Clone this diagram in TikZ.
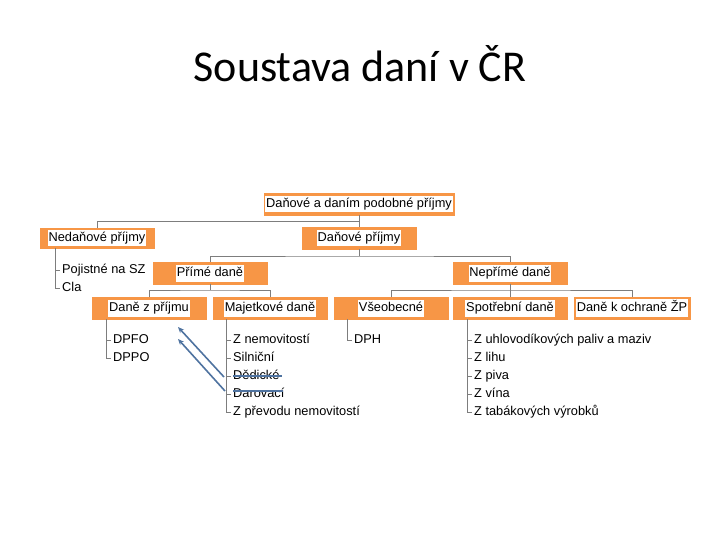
\documentclass[tikz,border=0pt]{standalone}
\usepackage{fontspec}
\setmainfont{Liberation Sans}
\newfontfamily\titlefont{Carlito}
\usetikzlibrary{positioning,arrows.meta,calc}
\definecolor{taxorange}{RGB}{247,150,70}
\definecolor{treegray}{RGB}{125,125,125}
\definecolor{strikeblue}{RGB}{79,115,160}
\newcommand{\whitehl}[1]{{\setlength{\fboxsep}{0.8pt}\colorbox{white}{\strut #1}}}
\tikzset{
  taxbox/.style={fill=taxorange, draw=taxorange, minimum width=114pt, minimum height=22pt, inner sep=1.5pt, align=center},
  itemnode/.style={anchor=west, inner xsep=7pt, inner ysep=0pt, text height=9.5pt, text depth=2.5pt},
  treeline/.style={draw=treegray, line width=0.8pt},
  strikeline/.style={draw=strikeblue, line width=1.4pt},
  movearrow/.style={-{Stealth[length=6pt, width=5pt]}, draw=strikeblue, line width=1.6pt}
}

\begin{document}
\begin{tikzpicture}[x=1pt, y=-1pt, every node/.style={font=\fontsize{12.8pt}{15.4pt}\selectfont}]
  \useasboundingbox (0,0) rectangle (720,540);
  \node[font=\titlefont\fontsize{44pt}{52pt}\selectfont, anchor=base] (title) at (360,82) {Soustava daní v ČR};

  % boxes
  \node[taxbox, minimum width=190pt] (top) at (359,204) {\whitehl{Daňové a daním podobné příjmy}};
  \node[taxbox, minimum height=20pt] (nedan) at (97,238) {\whitehl{Nedaňové příjmy}};
  \node[taxbox] (danove) at (359,238) {\whitehl{Daňové příjmy}};
  \node[taxbox] (prime) at (210,273) {\whitehl{Přímé daně}};
  \node[taxbox] (neprime) at (510,273) {\whitehl{Nepřímé daně}};
  \node[taxbox] (dzp) at (149,308) {\whitehl{Daně z příjmu}};
  \node[taxbox] (majet) at (270,308) {\whitehl{Majetkové daně}};
  \node[taxbox] (vseob) at (391,308) {\whitehl{Všeobecné}};
  \node[taxbox] (spotr) at (510,308) {\whitehl{Spotřební daně}};
  \node[taxbox, minimum width=116pt] (ochr) at (632,308) {\whitehl{Daně k ochraně ŽP}};

  % tree
  \coordinate (j0) at (359,221);
  \coordinate (j1) at (359,256);
  \coordinate (j2) at (210,290);
  \coordinate (j3) at (510,290);
  \draw[treeline] (top) -- (danove);
  \draw[treeline] (nedan.north) |- (j0);
  \draw[treeline] (danove) -- (j1);
  \draw[treeline] (prime.north) |- (j1) -| (neprime.north);
  \draw[treeline] (prime) -- (j2);
  \draw[treeline] (dzp.north) |- (j2) -| (majet.north);
  \draw[treeline] (neprime) -- (spotr);
  \draw[treeline] (vseob.north) |- (j3) -| (ochr.north);

  % lists
  \node[itemnode] (pojist) at (55,270) {Pojistné na SZ};
  \node[itemnode] (cla) at (55,288) {Cla};
  \draw[treeline] (nedan.south -| cla.west) |- ([xshift=5pt]cla.west);
  \draw[treeline] (pojist.west) -- ++(5,0);

  \node[itemnode] (dpfo) at (106,340) {DPFO};
  \node[itemnode] (dppo) at (106,358) {DPPO};
  \draw[treeline] (dzp.south -| dppo.west) |- ([xshift=5pt]dppo.west);
  \draw[treeline] (dpfo.west) -- ++(5,0);

  \node[itemnode] (nemov) at (226,340) {Z nemovitostí};
  \node[itemnode] (silni) at (226,358) {Silniční};
  \node[itemnode] (dedic) at (226,376) {Dědické};
  \node[itemnode] (darov) at (226,394) {Darovací};
  \node[itemnode] (prevod) at (226,412) {Z převodu nemovitostí};
  \draw[treeline] (majet.south -| prevod.west) |- ([xshift=5pt]prevod.west);
  \draw[treeline] (nemov.west) -- ++(5,0);
  \draw[treeline] (silni.west) -- ++(5,0);
  \draw[treeline] (dedic.west) -- ++(5,0);
  \draw[treeline] (darov.west) -- ++(5,0);

  \node[itemnode] (dph) at (347,340) {DPH};
  \draw[treeline] (vseob.south -| dph.west) |- ([xshift=5pt]dph.west);

  \node[itemnode] (uhlov) at (467,340) {Z uhlovodíkových paliv a maziv};
  \node[itemnode] (lihu) at (467,358) {Z lihu};
  \node[itemnode] (piva) at (467,376) {Z piva};
  \node[itemnode] (vina) at (467,394) {Z vína};
  \node[itemnode] (tabak) at (467,412) {Z tabákových výrobků};
  \draw[treeline] (spotr.south -| tabak.west) |- ([xshift=5pt]tabak.west);
  \draw[treeline] (uhlov.west) -- ++(5,0);
  \draw[treeline] (lihu.west) -- ++(5,0);
  \draw[treeline] (piva.west) -- ++(5,0);
  \draw[treeline] (vina.west) -- ++(5,0);

  % struck out items moved up
  \coordinate (a1) at (178,327);
  \coordinate (a2) at (178,339);
  \draw[strikeline] ([xshift=7pt]dedic.west) -- ([xshift=-5pt]dedic.east);
  \draw[strikeline] ([xshift=7pt,yshift=3pt]darov.west) -- ([xshift=-9pt,yshift=3pt]darov.east);
  \draw[movearrow] ([xshift=-2pt,yshift=-1pt]dedic.west) -- (a1);
  \draw[movearrow] ([xshift=-1pt,yshift=3pt]darov.west) -- (a2);
\end{tikzpicture}
\end{document}
